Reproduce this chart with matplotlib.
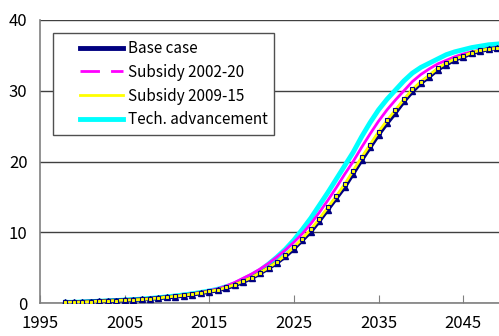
import matplotlib
matplotlib.use("Agg")
import matplotlib.pyplot as plt
from matplotlib.lines import Line2D
from matplotlib.legend_handler import HandlerLine2D

years = list(range(1998, 2051))
base_case = [0.1, 0.1, 0.15, 0.2, 0.25, 0.3, 0.35, 0.4, 0.45, 0.5, 0.6, 0.7, 0.8, 0.9,
             1.05, 1.2, 1.4, 1.6, 1.8, 2.1, 2.5, 3.0, 3.5, 4.2, 4.9, 5.7, 6.6, 7.7, 8.9,
             10.1, 11.6, 13.2, 14.8, 16.4, 18.3, 20.2, 22.0, 23.8, 25.4, 26.9, 28.5, 29.9,
             31.1, 32.0, 33.0, 33.7, 34.4, 34.8, 35.3, 35.6, 35.9, 36.0, 36.1]
subsidy_2002_20 = [0.1, 0.1, 0.15, 0.2, 0.25, 0.3, 0.35, 0.42, 0.48, 0.55, 0.65, 0.75, 0.87, 1.0,
                   1.15, 1.3, 1.5, 1.75, 2.0, 2.4, 2.9, 3.5, 4.1, 4.8, 5.6, 6.5, 7.5, 8.6, 9.8,
                   11.2, 12.8, 14.5, 16.3, 18.2, 20.0, 22.0, 23.9, 25.7, 27.3, 28.7, 30.0, 31.3,
                   32.3, 33.1, 33.8, 34.3, 34.8, 35.2, 35.5, 35.7, 35.9, 36.1, 36.2]
subsidy_2009_15 = [0.1, 0.1, 0.15, 0.2, 0.25, 0.3, 0.35, 0.4, 0.45, 0.5, 0.6, 0.7, 0.85, 0.95,
                   1.1, 1.25, 1.45, 1.65, 1.85, 2.2, 2.6, 3.1, 3.6, 4.3, 5.0, 5.8, 6.8, 7.9, 9.1,
                   10.4, 11.9, 13.5, 15.1, 16.8, 18.7, 20.6, 22.4, 24.2, 25.8, 27.3, 28.8, 30.2,
                   31.3, 32.2, 33.2, 33.9, 34.5, 34.9, 35.4, 35.7, 35.9, 36.0, 36.1]
tech_advancement = [0.1, 0.1, 0.15, 0.2, 0.25, 0.3, 0.35, 0.42, 0.48, 0.55, 0.65, 0.75, 0.87, 1.0,
                    1.15, 1.3, 1.5, 1.7, 1.95, 2.3, 2.7, 3.3, 3.9, 4.6, 5.5, 6.5, 7.6, 8.9, 10.4,
                    12.0, 13.8, 15.6, 17.5, 19.4, 21.3, 23.5, 25.5, 27.3, 28.8, 30.1, 31.4, 32.5,
                    33.3, 33.9, 34.5, 35.1, 35.5, 35.8, 36.1, 36.3, 36.5, 36.6, 36.7]
labels = ["Base case", "Subsidy 2002-20", "Subsidy 2009-15", "Tech. advancement"]
x_ticks = [1995, 2005, 2015, 2025, 2035, 2045]
y_ticks = [0, 10, 20, 30, 40]

plt.rcParams['font.family'] = ['Noto Sans CJK JP', 'DejaVu Sans']

fig = plt.figure(figsize=(4.99, 3.36), dpi=100)
ax = fig.add_axes([40/499, 33/336, 465.5/499, 283/336])
ax.set_xlim(1995, 2050)
ax.set_ylim(0, 40)

ax.set_yticks(y_ticks)
ax.set_xticks(x_ticks)
ax.yaxis.grid(True, color='#404040', lw=1)
ax.set_axisbelow(True)
ax.tick_params(axis='y', length=0, pad=9, labelsize=12)
ax.tick_params(axis='x', direction='in', length=6, color='#808080', pad=9, labelsize=12)
for s in ['top', 'right']:
    ax.spines[s].set_visible(False)
for s in ['left', 'bottom']:
    ax.spines[s].set_color('#808080')
    ax.spines[s].set_linewidth(1.2)

ax.plot(years, tech_advancement, color='#00FFFF', lw=3.5, zorder=2)
ax.plot(years, subsidy_2002_20, color='#FF00FF', lw=2, zorder=3)
ax.plot(years, base_case, color='#000080', lw=3, marker='^', ms=4, zorder=4)
ax.plot(years, subsidy_2009_15, color='#FFFF00', lw=2, marker='s', ms=2.5,
        mfc='#FFFF00', mec='#000080', mew=0.8, zorder=5)

handles = [
    Line2D([], [], color='#000080', lw=3.5),
    Line2D([], [], color='#FF00FF', lw=2, dashes=(7, 4)),
    Line2D([], [], color='#FFFF00', lw=2),
    Line2D([], [], color='#00FFFF', lw=3.5),
]
hmap = {h: HandlerLine2D(xpad=1.3) for h in handles}
leg = ax.legend(handles, labels, loc='upper left', bbox_to_anchor=(53/499, 1 - 33/336),
                bbox_transform=fig.transFigure, fontsize=11, frameon=True, fancybox=False,
                edgecolor='#505050', framealpha=1, handlelength=4.1, handletextpad=0.33,
                labelspacing=0.45, borderpad=0.45, borderaxespad=0, handler_map=hmap)
leg.get_frame().set_linewidth(1)

fig.savefig('out.png', dpi=100)
